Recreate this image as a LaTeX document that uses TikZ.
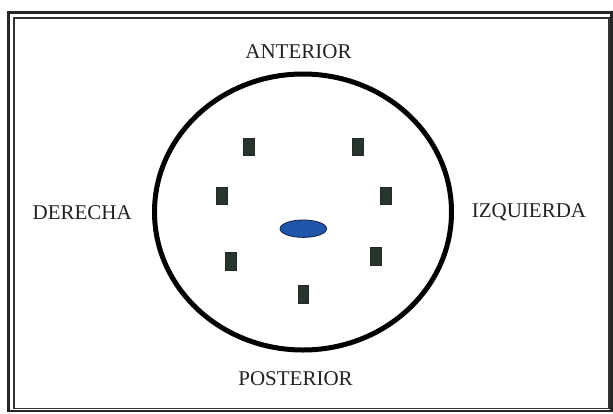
\documentclass[tikz,border=0pt]{standalone}
\usepackage{fontspec}
\setmainfont{Liberation Serif}
\usetikzlibrary{shapes.geometric}
\definecolor{elecfill}{RGB}{38,54,44}
\definecolor{bluefill}{RGB}{31,86,170}
\definecolor{navy}{RGB}{20,30,70}
\definecolor{txt}{RGB}{34,34,34}
\tikzset{
  lbl/.style={font=\fontsize{21}{24}\selectfont, text=txt, inner sep=0pt},
  elec/.style={draw=black!85, line width=0.8pt, fill=elecfill, minimum width=10.5pt, minimum height=17.5pt, inner sep=0pt},
}
\begin{document}
\begin{tikzpicture}[x=1pt,y=-1pt]
\useasboundingbox (0,0) rectangle (613,413);
\fill[white] (0,0) rectangle (613,413);
\draw[line width=2.6pt, color=black!85] (8.7,12.3) rectangle (611.7,411);
\draw[line width=1.4pt, color=black!80] (14,18) rectangle (608.8,408.3);
\node[draw=black, line width=5pt, ellipse, minimum width=297pt, minimum height=276pt, inner sep=0pt] (head) at (303,212) {};
\node[lbl] (ant) at (298.5,51.5) {ANTERIOR};
\node[lbl] (post) at (295.5,379) {POSTERIOR};
\node[lbl] (der) at (82.2,213) {DERECHA};
\node[lbl] (izq) at (529,212) {IZQUIERDA};
\node[ellipse, draw=navy, line width=0.8pt, fill=bluefill, minimum width=46.6pt, minimum height=17.4pt, inner sep=0pt] (nose) at (303.3,228.7) {};
\node[elec] (e1) at (248.7,146.7) {};
\node[elec] (e2) at (358,146.7) {};
\node[elec] (e3) at (222,195.8) {};
\node[elec] (e4) at (385.7,195.8) {};
\node[elec] (e5) at (230.7,261.5) {};
\node[elec] (e6) at (375.8,256.2) {};
\node[elec] (e7) at (303.3,294.5) {};
\end{tikzpicture}
\end{document}
